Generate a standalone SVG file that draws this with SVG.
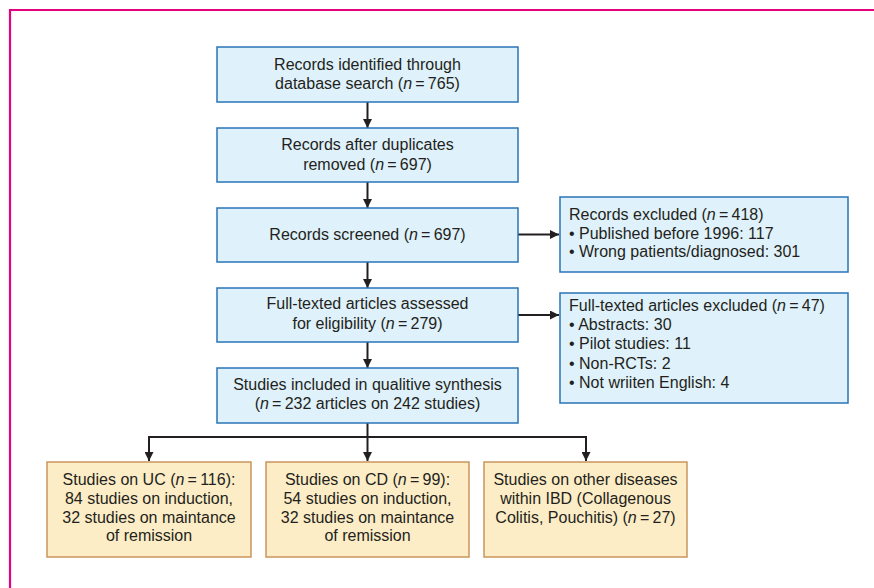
<svg xmlns="http://www.w3.org/2000/svg" width="874" height="588" viewBox="0 0 874 588">
<style>
  text { font-family: "Liberation Sans", Arial, sans-serif; font-size: 16px; fill: #231f20; }
  .c { text-anchor: middle; }
  .i { font-style: italic; }
  .blue { fill: #dff1fa; stroke: #2a74b8; stroke-width: 1.5; }
  .org { fill: #fdedc6; stroke: #c9955c; stroke-width: 1.5; }
  .conn { fill: none; stroke: #231f20; stroke-width: 2; }
</style>
<defs>
  <marker id="ah" viewBox="0 0 10 10" refX="10" refY="5" markerWidth="9" markerHeight="9" markerUnits="userSpaceOnUse" orient="auto">
    <path d="M0,0 L10,5 L0,10 Z" fill="#231f20"/>
  </marker>
</defs>
<path d="M10,588 V10 H874" fill="none" stroke="#e6007e" stroke-width="2.2"/>

<g id="connectors">
  <line class="conn" x1="367.5" y1="102" x2="367.5" y2="128" marker-end="url(#ah)"/>
  <line class="conn" x1="367.5" y1="182" x2="367.5" y2="208" marker-end="url(#ah)"/>
  <line class="conn" x1="367.5" y1="262" x2="367.5" y2="288" marker-end="url(#ah)"/>
  <line class="conn" x1="367.5" y1="342" x2="367.5" y2="368" marker-end="url(#ah)"/>
  <line class="conn" x1="518" y1="234.5" x2="559" y2="234.5" marker-end="url(#ah)"/>
  <line class="conn" x1="518" y1="315" x2="559" y2="315" marker-end="url(#ah)"/>
  <line class="conn" x1="367.5" y1="423" x2="367.5" y2="461" marker-end="url(#ah)"/>
  <path class="conn" d="M149,461 V437 H586 V461" marker-end="url(#ah)"/>
  <line class="conn" x1="149" y1="437" x2="149" y2="461" marker-end="url(#ah)"/>
</g>

<g id="n1">
  <rect class="blue" x="217" y="47" width="301" height="55"/>
  <text class="c" x="367.5" y="69.5">Records identified through</text>
  <text class="c" x="367.5" y="88.5">database search (<tspan class="i">n</tspan>&#8201;=&#8201;765)</text>
</g>
<g id="n2">
  <rect class="blue" x="217" y="128" width="301" height="54"/>
  <text class="c" x="367.5" y="150">Records after duplicates</text>
  <text class="c" x="367.5" y="169.5">removed (<tspan class="i">n</tspan>&#8201;=&#8201;697)</text>
</g>
<g id="n3">
  <rect class="blue" x="217" y="208" width="301" height="54"/>
  <text class="c" x="367.5" y="240">Records screened (<tspan class="i">n</tspan>&#8201;=&#8201;697)</text>
</g>
<g id="n4">
  <rect class="blue" x="217" y="288" width="301" height="54"/>
  <text class="c" x="367.5" y="309">Full-texted articles assessed</text>
  <text class="c" x="367.5" y="329">for eligibility (<tspan class="i">n</tspan>&#8201;=&#8201;279)</text>
</g>
<g id="n5">
  <rect class="blue" x="217" y="368" width="301" height="55"/>
  <text class="c" x="367.5" y="390">Studies included in qualitive synthesis</text>
  <text class="c" x="367.5" y="408.5">(<tspan class="i">n</tspan>&#8201;=&#8201;232 articles on 242 studies)</text>
</g>
<g id="r1">
  <rect class="blue" x="560" y="197" width="288" height="75"/>
  <text x="569" y="219.5">Records excluded (<tspan class="i">n</tspan>&#8201;=&#8201;418)</text>
  <text x="569" y="238.5">• Published before 1996: 117</text>
  <text x="569" y="257">• Wrong patients/diagnosed: 301</text>
</g>
<g id="r2">
  <rect class="blue" x="560" y="293" width="288" height="110"/>
  <text x="569" y="311">Full-texted articles excluded (<tspan class="i">n</tspan>&#8201;=&#8201;47)</text>
  <text x="569" y="330">• Abstracts: 30</text>
  <text x="569" y="349">• Pilot studies: 11</text>
  <text x="569" y="368.5">• Non-RCTs: 2</text>
  <text x="569" y="387.5">• Not wriiten English: 4</text>
</g>
<g id="b1">
  <rect class="org" x="47" y="462" width="204" height="95"/>
  <text class="c" x="149" y="484.5">Studies on UC (<tspan class="i">n</tspan>&#8201;=&#8201;116):</text>
  <text class="c" x="149" y="503.5">84 studies on induction,</text>
  <text class="c" x="149" y="522.5">32 studies on maintance</text>
  <text class="c" x="149" y="541">of remission</text>
</g>
<g id="b2">
  <rect class="org" x="266" y="462" width="203" height="95"/>
  <text class="c" x="367.5" y="484.5">Studies on CD (<tspan class="i">n</tspan>&#8201;=&#8201;99):</text>
  <text class="c" x="367.5" y="503.5">54 studies on induction,</text>
  <text class="c" x="367.5" y="522.5">32 studies on maintance</text>
  <text class="c" x="367.5" y="541">of remission</text>
</g>
<g id="b3">
  <rect class="org" x="484" y="462" width="203" height="95"/>
  <text class="c" x="585.5" y="484.5">Studies on other diseases</text>
  <text class="c" x="585.5" y="503.5">within IBD (Collagenous</text>
  <text class="c" x="585.5" y="522.5">Colitis, Pouchitis) (<tspan class="i">n</tspan>&#8201;=&#8201;27)</text>
</g>
</svg>
